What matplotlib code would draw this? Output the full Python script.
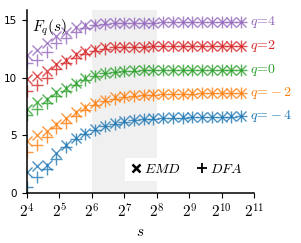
import numpy as np
import matplotlib
matplotlib.use("Agg")
import matplotlib.pyplot as plt
from matplotlib.lines import Line2D

plt.rcParams["mathtext.fontset"] = "cm"

# scales s (log2 spaced, step ~0.3 octave)
s = [16, 19.7, 24.3, 29.9, 36.8, 45.3, 55.7, 68.6, 84.4, 104, 128, 157.6,
     194, 238.9, 294, 362, 445.7, 548.7, 675.6, 831.7, 1024, 1260.6, 1552]

q_labels = ["$q\\!=\\!-4$", "$q\\!=\\!-2$", "$q\\!=\\!0$", "$q\\!=\\!2$", "$q\\!=\\!4$"]
colors = ["C0", "C1", "C2", "C3", "C4"]

emd_m4 = [1.85, 2.35, 2.45, 3.5, 4.2, 4.8, 5.2, 5.55, 5.85, 6.05, 6.25, 6.35, 6.45,
          6.5, 6.55, 6.6, 6.6, 6.6, 6.6, 6.62, 6.62, 6.65, 6.65]
dfa_m4 = [0.55, 1.4, 2.1, 2.95, 4.0, 4.65, 5.1, 5.45, 5.8, 6.0, 6.2, 6.3, 6.4,
          6.45, 6.5, 6.55, 6.55, 6.6, 6.6, 6.6, 6.62, 6.62, 6.65]
emd_m2 = [4.5, 5.0, 5.35, 6.0, 6.5, 7.0, 7.5, 7.8, 8.1, 8.3, 8.45, 8.5, 8.55,
          8.6, 8.6, 8.62, 8.62, 8.65, 8.65, 8.65, 8.65, 8.65, 8.65]
dfa_m2 = [3.6, 4.2, 4.9, 5.6, 6.1, 6.7, 7.2, 7.6, 7.95, 8.2, 8.35, 8.45, 8.5,
          8.55, 8.58, 8.6, 8.62, 8.62, 8.65, 8.65, 8.65, 8.65, 8.65]
emd_0 = [7.3, 7.9, 8.2, 8.75, 9.1, 9.55, 9.95, 10.25, 10.45, 10.55, 10.6, 10.65, 10.65,
         10.67, 10.68, 10.7, 10.7, 10.7, 10.7, 10.7, 10.7, 10.7, 10.7]
dfa_0 = [6.8, 7.3, 7.8, 8.4, 8.85, 9.35, 9.8, 10.15, 10.4, 10.5, 10.6, 10.62, 10.65,
         10.67, 10.68, 10.7, 10.7, 10.7, 10.7, 10.7, 10.7, 10.7, 10.7]
emd_2 = [9.9, 10.2, 10.6, 11.2, 11.55, 12.05, 12.35, 12.55, 12.65, 12.7, 12.7, 12.72, 12.72,
         12.73, 12.73, 12.74, 12.74, 12.75, 12.75, 12.75, 12.75, 12.75, 12.75]
dfa_2 = [8.9, 9.4, 10.0, 10.8, 11.25, 11.7, 12.05, 12.35, 12.55, 12.65, 12.7, 12.72, 12.72,
         12.73, 12.73, 12.74, 12.74, 12.75, 12.75, 12.75, 12.75, 12.75, 12.75]
emd_4 = [12.0, 12.4, 13.0, 13.6, 14.0, 14.4, 14.6, 14.7, 14.75, 14.78, 14.8, 14.8, 14.8,
         14.8, 14.82, 14.82, 14.82, 14.83, 14.83, 14.83, 14.84, 14.84, 14.85]
dfa_4 = [11.3, 11.55, 12.25, 13.0, 13.5, 14.0, 14.35, 14.55, 14.68, 14.75, 14.78, 14.8, 14.8,
         14.8, 14.82, 14.82, 14.82, 14.83, 14.83, 14.83, 14.84, 14.84, 14.85]

emd = [emd_m4, emd_m2, emd_0, emd_2, emd_4]
dfa = [dfa_m4, dfa_m2, dfa_0, dfa_2, dfa_4]

fig = plt.figure(figsize=(3.01, 2.43), dpi=100)
ax = fig.add_axes([0.0897, 0.206, 0.754, 0.753])

ax.axvspan(2**6, 2**8, color="#f0f0f0", zorder=0, lw=0)

for e, d, c, lab in zip(emd, dfa, colors, q_labels):
    ax.plot(s, e, ls="none", marker="x", ms=7, mew=1.0, color=c, alpha=0.8)
    ax.plot(s, d, ls="none", marker="+", ms=8, mew=1.0, color=c, alpha=0.8)
    ax.text(s[-1] * 1.2, e[-1], lab, color=c, fontsize=10, va="center", ha="left")

ax.set_xscale("log", base=2)
ax.set_xlim(2**4, 2**11)
ax.set_ylim(0, 15.9)
ticks = [2**k for k in range(4, 12)]
ax.set_xticks(ticks)
ax.set_xticklabels(["$2^{%d}$" % k for k in range(4, 12)], fontsize=11)
ax.xaxis.set_minor_locator(matplotlib.ticker.NullLocator())
ax.set_yticks([0, 5, 10, 15])
ax.tick_params(axis="y", labelsize=7.5)
for sp in ["top", "right"]:
    ax.spines[sp].set_visible(False)
for sp in ["left", "bottom"]:
    ax.spines[sp].set_linewidth(1.1)

ax.text(0.02, 0.96, "$F_q(s)$", transform=ax.transAxes, fontsize=11, va="top", ha="left")
ax.set_xlabel("$s$", fontsize=11, labelpad=2)

handles = [Line2D([], [], ls="none", marker="x", color="k", ms=6, mew=1.8),
           Line2D([], [], ls="none", marker="+", color="k", ms=7, mew=1.3)]
ax.legend(handles, ["$EMD$", "$DFA$"], ncol=2, loc="lower right",
          bbox_to_anchor=(1.0, 0.03), frameon=True, edgecolor="none", framealpha=1,
          fancybox=False, fontsize=10, handletextpad=0.1, columnspacing=1.0,
          handlelength=1.0, borderpad=0.3)

fig.savefig("out.png", dpi=100)
